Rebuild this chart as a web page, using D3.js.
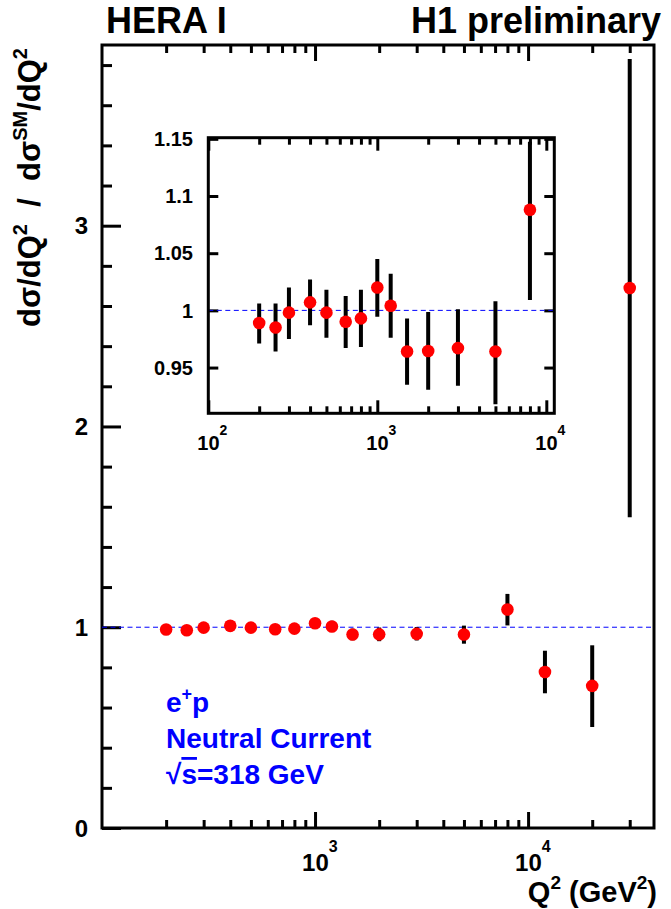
<!DOCTYPE html>
<html>
<head>
<meta charset="utf-8">
<script src="https://cdnjs.cloudflare.com/ajax/libs/d3/7.8.5/d3.min.js"></script>
<style>
  body { margin: 0; background: #fff; }
  text { font-family: "Liberation Sans", Arial, Helvetica, sans-serif; font-weight: bold; }
</style>
</head>
<body>
<div id="chart"></div>
<script>
// Q2 bin centres and measured / SM ratio (e+p NC, HERA I)
var q2 = [200, 250, 300, 400, 500, 650, 800, 1000, 1200, 1500, 2000, 3000, 5000, 8000, 12000, 20000, 30000];
var ratio = [0.989, 0.985, 0.998, 1.007, 0.998, 0.990, 0.993, 1.020, 1.004, 0.964, 0.9645, 0.967, 0.964, 1.088, 0.777, 0.708, 2.69];
var errLow = [0.971, 0.964, 0.975, 0.987, 0.976, 0.967, 0.968, 0.9945, 0.976, 0.935, 0.9305, 0.934, 0.918, 1.009, 0.671, 0.503, 1.548];
var errHigh = [1.006, 1.006, 1.020, 1.027, 1.018, 1.0125, 1.018, 1.045, 1.032, 0.993, 0.9985, 1.001, 1.008, 1.166, 0.883, 0.910, 3.83];
var insetPoints = 14; // the zoom shows the first 14 bins

// tick values
var yMajor = [0, 1, 2, 3];
var yMinor = [0.2, 0.4, 0.6, 0.8, 1.2, 1.4, 1.6, 1.8, 2.2, 2.4, 2.6, 2.8, 3.2, 3.4, 3.6, 3.8];
var xMajor = [1000, 10000];
var xMinor = [200, 300, 400, 500, 600, 700, 800, 900, 2000, 3000, 4000, 5000, 6000, 7000, 8000, 9000, 20000, 30000];
var insetYTicks = [0.95, 1, 1.05, 1.1, 1.15];
var insetYLabels = ["0.95", "1", "1.05", "1.1", "1.15"];
var insetXMajor = [100, 1000, 10000];
var insetXMinor = [200, 300, 400, 500, 600, 700, 800, 900, 2000, 3000, 4000, 5000, 6000, 7000, 8000, 9000];

var svgWidth = 671;
var svgHeight = 909;

var main = {left: 102, right: 654, top: 45, bottom: 828};
var inset = {left: 208.3, right: 554.3, top: 137.7, bottom: 413.3};

var svg = d3.select("#chart")
  .append("svg")
  .attr("width", svgWidth)
  .attr("height", svgHeight);

svg.append("rect")
  .attr("width", svgWidth)
  .attr("height", svgHeight)
  .attr("fill", "#fff");

// Step 1: scales
// ==============================
var xScale = d3.scaleLog()
  .domain([100, 39000])
  .range([main.left, main.right]);

var yScale = d3.scaleLinear()
  .domain([0, 3.9])
  .range([main.bottom, main.top]);

var xInset = d3.scaleLog()
  .domain([100, 11150])
  .range([inset.left, inset.right]);

var yInset = d3.scaleLinear()
  .domain([0.91, 1.151])
  .range([inset.bottom, inset.top]);

function styleAxis(g) {
  g.select(".domain").remove();
  g.selectAll(".tick line").attr("stroke", "#000").attr("stroke-width", 3);
  g.selectAll(".tick text").remove();
}

// Step 2: main frame and ticks
// ==============================
svg.append("g").attr("transform", `translate(${main.left},0)`)
  .call(d3.axisLeft(yScale).tickValues(yMajor).tickSize(-19)).call(styleAxis);
svg.append("g").attr("transform", `translate(${main.left},0)`)
  .call(d3.axisLeft(yScale).tickValues(yMinor).tickSize(-10)).call(styleAxis);

svg.append("g").attr("transform", `translate(0,${main.bottom})`)
  .call(d3.axisBottom(xScale).tickValues(xMajor).tickSize(-16)).call(styleAxis);
svg.append("g").attr("transform", `translate(0,${main.bottom})`)
  .call(d3.axisBottom(xScale).tickValues(xMinor).tickSize(-8)).call(styleAxis);
svg.append("g").attr("transform", `translate(0,${main.top})`)
  .call(d3.axisTop(xScale).tickValues(xMajor).tickSize(-16)).call(styleAxis);
svg.append("g").attr("transform", `translate(0,${main.top})`)
  .call(d3.axisTop(xScale).tickValues(xMinor).tickSize(-8)).call(styleAxis);

svg.append("rect")
  .attr("x", main.left)
  .attr("y", main.top)
  .attr("width", main.right - main.left)
  .attr("height", main.bottom - main.top)
  .attr("fill", "none")
  .attr("stroke", "#000")
  .attr("stroke-width", 3);

// y tick labels
svg.selectAll(".ylab").data(yMajor).enter().append("text")
  .attr("x", 88)
  .attr("y", d => yScale(d))
  .attr("dy", "0.36em")
  .attr("text-anchor", "end")
  .attr("font-size", 24)
  .text(d => d);

// x tick labels 10^n
var xLab = svg.selectAll(".xlab").data(xMajor).enter().append("text")
  .attr("x", d => xScale(d) - 13)
  .attr("y", 871)
  .attr("font-size", 24);
xLab.append("tspan").text("10");
xLab.append("tspan").attr("font-size", 16).attr("dy", -19).text(d => Math.round(Math.log10(d)));

// axis titles
var xTitle = svg.append("text")
  .attr("x", 657)
  .attr("y", 902)
  .attr("text-anchor", "end")
  .attr("font-size", 29);
xTitle.append("tspan").text("Q");
xTitle.append("tspan").attr("font-size", 19).attr("dy", -13).text("2");
xTitle.append("tspan").attr("dy", 13).text("\u00a0(GeV");
xTitle.append("tspan").attr("font-size", 19).attr("dy", -13).text("2");
xTitle.append("tspan").attr("dy", 13).text(")");

var yTitle = svg.append("text")
  .attr("transform", "translate(40,48) rotate(-90)")
  .attr("text-anchor", "end")
  .attr("font-size", 31);
yTitle.append("tspan").text("d\u03c3/dQ");
yTitle.append("tspan").attr("font-size", 20).attr("dy", -13).text("2");
yTitle.append("tspan").attr("dy", 13).text("\u00a0\u00a0/\u00a0\u00a0d\u03c3");
yTitle.append("tspan").attr("font-size", 20).attr("dy", -13).text("SM");
yTitle.append("tspan").attr("dy", 13).text("/dQ");
yTitle.append("tspan").attr("font-size", 20).attr("dy", -13).text("2");

// header
svg.append("text").attr("x", 106).attr("y", 33).attr("font-size", 36).text("HERA I");
svg.append("text").attr("x", 661).attr("y", 33).attr("text-anchor", "end").attr("font-size", 36).text("H1 preliminary");

// Step 3: main data
// ==============================
var data = q2.map((q, i) => ({q: q, r: ratio[i], lo: errLow[i], hi: errHigh[i]}));

svg.append("line")
  .attr("x1", main.left).attr("x2", main.right)
  .attr("y1", yScale(1)).attr("y2", yScale(1))
  .attr("stroke", "#0000ff")
  .attr("stroke-width", 1)
  .attr("stroke-dasharray", "5,3.5");

svg.selectAll(".err").data(data).enter().append("line")
  .attr("x1", d => xScale(d.q)).attr("x2", d => xScale(d.q))
  .attr("y1", d => yScale(d.lo)).attr("y2", d => yScale(d.hi))
  .attr("stroke", "#000")
  .attr("stroke-width", 4);

svg.selectAll(".pt").data(data).enter().append("circle")
  .attr("cx", d => xScale(d.q))
  .attr("cy", d => yScale(d.r))
  .attr("r", 6.3)
  .attr("fill", "#ff0000");

// legend
var leg = svg.append("g").attr("fill", "#0000ff").attr("font-size", 28);
var l1 = leg.append("text").attr("x", 166).attr("y", 712);
l1.append("tspan").text("e");
l1.append("tspan").attr("font-size", 18).attr("dy", -12).text("+");
l1.append("tspan").attr("dy", 12).text("p");
leg.append("text").attr("x", 166).attr("y", 748).text("Neutral Current");
var l3 = leg.append("text").attr("x", 166).attr("y", 784);
l3.append("tspan").text("\u221a");
l3.append("tspan").style("text-decoration", "overline").text("s");
l3.append("tspan").text("=318 GeV");

// Step 4: inset
// ==============================
var ins = svg.append("g");

ins.append("rect")
  .attr("x", inset.left).attr("y", inset.top)
  .attr("width", inset.right - inset.left)
  .attr("height", inset.bottom - inset.top)
  .attr("fill", "#fff");

ins.append("clipPath").attr("id", "insetClip")
  .append("rect")
  .attr("x", inset.left).attr("y", inset.top)
  .attr("width", inset.right - inset.left)
  .attr("height", inset.bottom - inset.top);

ins.append("g").attr("transform", `translate(${inset.left},0)`)
  .call(d3.axisLeft(yInset).tickValues(insetYTicks).tickSize(-10)).call(styleAxis);
ins.append("g").attr("transform", `translate(${inset.right},0)`)
  .call(d3.axisRight(yInset).tickValues(insetYTicks).tickSize(-10)).call(styleAxis);
ins.append("g").attr("transform", `translate(0,${inset.bottom})`)
  .call(d3.axisBottom(xInset).tickValues(insetXMajor).tickSize(-13)).call(styleAxis);
ins.append("g").attr("transform", `translate(0,${inset.bottom})`)
  .call(d3.axisBottom(xInset).tickValues(insetXMinor).tickSize(-7)).call(styleAxis);
ins.append("g").attr("transform", `translate(0,${inset.top})`)
  .call(d3.axisTop(xInset).tickValues(insetXMajor).tickSize(-13)).call(styleAxis);
ins.append("g").attr("transform", `translate(0,${inset.top})`)
  .call(d3.axisTop(xInset).tickValues(insetXMinor).tickSize(-7)).call(styleAxis);

var insetData = data.slice(0, insetPoints);
var plot = ins.append("g").attr("clip-path", "url(#insetClip)");

plot.append("line")
  .attr("x1", inset.left).attr("x2", inset.right)
  .attr("y1", yInset(1)).attr("y2", yInset(1))
  .attr("stroke", "#0000ff")
  .attr("stroke-width", 1)
  .attr("stroke-dasharray", "5,3.5");

plot.selectAll(".err").data(insetData).enter().append("line")
  .attr("x1", d => xInset(d.q)).attr("x2", d => xInset(d.q))
  .attr("y1", d => yInset(d.lo)).attr("y2", d => Math.max(yInset(d.hi), inset.top + 4))
  .attr("stroke", "#000")
  .attr("stroke-width", 4);

plot.selectAll(".pt").data(insetData).enter().append("circle")
  .attr("cx", d => xInset(d.q))
  .attr("cy", d => yInset(d.r))
  .attr("r", 6.3)
  .attr("fill", "#ff0000");

ins.append("rect")
  .attr("x", inset.left).attr("y", inset.top)
  .attr("width", inset.right - inset.left)
  .attr("height", inset.bottom - inset.top)
  .attr("fill", "none")
  .attr("stroke", "#000")
  .attr("stroke-width", 3);

ins.selectAll(".iylab").data(insetYTicks).enter().append("text")
  .attr("x", 193)
  .attr("y", d => yInset(d))
  .attr("dy", "0.36em")
  .attr("text-anchor", "end")
  .attr("font-size", 20)
  .text((d, i) => insetYLabels[i]);

var ixLab = ins.selectAll(".ixlab").data(insetXMajor).enter().append("text")
  .attr("x", d => xInset(d) - 11)
  .attr("y", 450)
  .attr("font-size", 20);
ixLab.append("tspan").text("10");
ixLab.append("tspan").attr("font-size", 14).attr("dy", -15).text(d => Math.round(Math.log10(d)));
</script>
</body>
</html>
